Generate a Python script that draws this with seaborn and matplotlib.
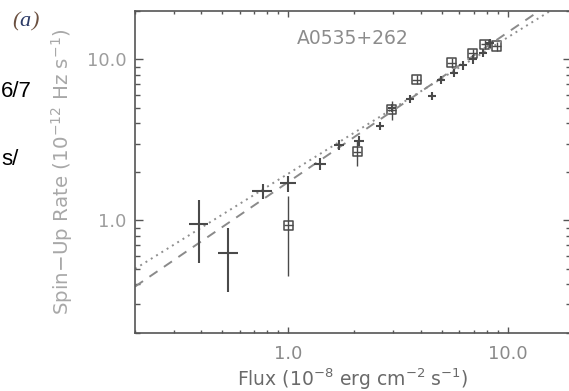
import numpy as np
import pandas as pd
import matplotlib
matplotlib.use("Agg")
import matplotlib.pyplot as plt
from matplotlib.ticker import FixedLocator, FixedFormatter, LogLocator, NullFormatter
import seaborn as sns

# ---- data ----
cross_flux = [0.391, 0.532, 0.764, 1.00, 1.40, 1.70, 2.10, 2.62, 2.96, 3.59, 4.53, 4.96, 5.68, 6.27, 6.95, 7.72, 8.28]
cross_rate = [0.944, 0.628, 1.52, 1.70, 2.24, 2.94, 3.13, 3.87, 5.01, 5.68, 5.96, 7.43, 8.26, 9.17, 10.0, 11.0, 12.6]
cross_rate_err = [0.40, 0.272, 0.165, 0.196, 0.195, 0.22, 0.23, 0.23, 0.30, 0.34, 0.35, 0.44, 0.49, 0.54, 0.59, 0.65, 0.74]
cross_flux_err = [0.040, 0.055, 0.080, 0.085, 0.090, 0.090, 0.110, 0.11, 0.13, 0.15, 0.19, 0.21, 0.24, 0.27, 0.30, 0.33, 0.35]

sq_flux = [1.00, 2.06, 2.96, 3.85, 5.55, 6.91, 7.86, 8.89]
sq_rate = [0.93, 2.67, 4.87, 7.50, 9.53, 10.9, 12.4, 12.1]
sq_rate_err = [0.48, 0.50, 0.67, 0.50, 0.64, 0.73, 0.83, 0.81]
sq_flux_err = [0.045, 0.093, 0.133, 0.173, 0.25, 0.31, 0.35, 0.40]

dotted_flux = [0.2, 20.0]
dotted_rate = [0.499, 24.7]
dashed_flux = [0.2, 20.0]
dashed_rate = [0.387, 28.1]

tick_values = [1.0, 10.0]
tick_labels = ["1.0", "10.0"]

source_name = "A0535+262"
x_label = r"Flux (10$^{-8}$ erg cm$^{-2}$ s$^{-1}$)"
y_label = r"Spin$-$Up Rate (10$^{-12}$ Hz s$^{-1}$)"

# ---- style ----
sns.set_theme(style="ticks")
plt.rcParams["font.family"] = ["DejaVu Sans"]
plt.rcParams["mathtext.fontset"] = "dejavusans"

W, H = 569, 391
fig = plt.figure(figsize=(W / 100, H / 100), dpi=100)
left, right, top, bottom = 135, 570.5, 11, 332.7
ax = fig.add_axes([left / W, (H - bottom) / H, (right - left) / W, (bottom - top) / H])
ax.set_xscale("log")
ax.set_yscale("log")

ink = "#4a4a4a"

lines_df = pd.DataFrame({"flux": dotted_flux + dashed_flux,
                         "rate": dotted_rate + dashed_rate,
                         "fit": ["dotted"] * 2 + ["dashed"] * 2})
sns.lineplot(data=lines_df[lines_df.fit == "dotted"], x="flux", y="rate", ax=ax,
             color="#8f8f8f", linewidth=1.4, linestyle=(0, (1, 2.2)), legend=False)
sns.lineplot(data=lines_df[lines_df.fit == "dashed"], x="flux", y="rate", ax=ax,
             color="#8a8a8a", linewidth=1.4, linestyle=(0, (5, 4)), legend=False)

ax.errorbar(cross_flux, cross_rate, xerr=cross_flux_err, yerr=cross_rate_err,
            fmt="none", ecolor=ink, elinewidth=1.5, capsize=0)
ax.errorbar(sq_flux, sq_rate, xerr=sq_flux_err, yerr=sq_rate_err,
            fmt="none", ecolor=ink, elinewidth=1.0, capsize=0)
sq_df = pd.DataFrame({"flux": sq_flux, "rate": sq_rate})
sns.scatterplot(data=sq_df, x="flux", y="rate", ax=ax, marker="s", s=44,
                facecolor="none", edgecolor=ink, linewidth=1.1, legend=False)

ax.set_xlim(0.2, 19.3)
ax.set_ylim(0.2, 20)

for axis in (ax.xaxis, ax.yaxis):
    axis.set_major_locator(FixedLocator(tick_values))
    axis.set_major_formatter(FixedFormatter(tick_labels))
    axis.set_minor_locator(LogLocator(base=10, subs=np.arange(2, 10)))
    axis.set_minor_formatter(NullFormatter())

ax.tick_params(which="both", direction="in", top=True, right=True, color="#555555", width=1.0)
ax.tick_params(axis="x", which="major", length=4.5, pad=9, labelsize=13, labelcolor="#8a8a8a")
ax.tick_params(axis="x", which="minor", length=2.5)
ax.tick_params(axis="y", which="major", length=5.5, pad=6, labelsize=13, labelcolor="#9d9d9d")
ax.tick_params(axis="y", which="minor", length=3.5)

for s in ("left", "bottom", "top"):
    ax.spines[s].set_color("#555555")
    ax.spines[s].set_linewidth(1.2)
ax.spines["right"].set_color("#c8c8c8")
ax.spines["right"].set_linewidth(1.0)

ax.set_xlabel(x_label, fontsize=13.5, color="#6a6a6a")
ax.set_ylabel(y_label, fontsize=14.3, color="#a8a8a8")
ax.xaxis.label.set_va("center")
ax.yaxis.label.set_va("center")
ax.xaxis.set_label_coords(0.5, (bottom - 379) / (bottom - top))
ax.yaxis.set_label_coords((62 - left) / (right - left), 0.5)

ax.text(0.5, (bottom - 38.5) / (bottom - top), source_name, transform=ax.transAxes,
        ha="center", va="center", fontsize=13.5, color="#8c8c8c")

# panel letter and stray page text
serif = ["Liberation Serif", "DejaVu Serif"]
fig.text(12 / W, 1 - 26 / H, "(", family=serif, style="italic", fontsize=16, color="#6b5040", va="baseline")
fig.text(19.5 / W, 1 - 26 / H, "a", family=serif, style="italic", fontsize=16, color="#2b3a66", va="baseline")
fig.text(31 / W, 1 - 26 / H, ")", family=serif, style="italic", fontsize=16, color="#6b5040", va="baseline")
fig.text(1 / W, 1 - 97 / H, "6/7", family=["Liberation Sans"], fontsize=16, color="black", ha="left", va="baseline")
fig.text(1 / W, 1 - 165 / H, "s/", family=["Liberation Sans"], fontsize=16, color="black", ha="left", va="baseline")

fig.savefig("out.png", dpi=100, facecolor="white")
